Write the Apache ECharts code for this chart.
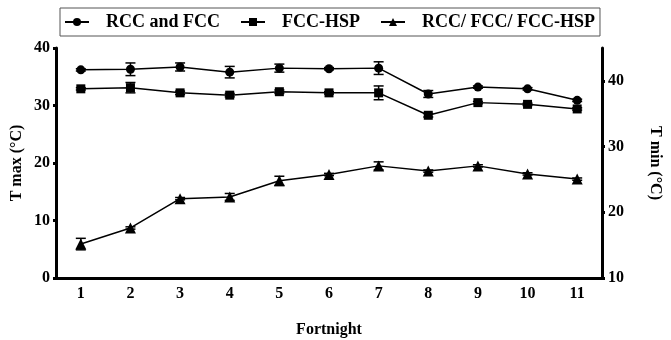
<!DOCTYPE html>
<html lang="en">
<head>
	<meta charset="UTF-8">
	<title>Fortnight temperatures</title>
	<style>
		html, body { margin: 0; padding: 0; background: #fff; }
		#chart { width: 671px; height: 340px; }
	</style>
</head>
<body>
	<div id="chart"></div>
<script src="https://cdn.jsdelivr.net/npm/echarts@6/dist/echarts.min.js"></script>
<script>
	// data
	var fortnights = ['1', '2', '3', '4', '5', '6', '7', '8', '9', '10', '11'];
	var rccFcc = [36.2, 36.3, 36.7, 35.8, 36.5, 36.4, 36.5, 32.0, 33.2, 32.9, 30.9];
	var rccFccErr = [0.2, 1.1, 0.7, 1.0, 0.7, 0.2, 1.1, 0.6, 0.2, 0.2, 0.2];
	var fccHsp = [32.9, 33.1, 32.2, 31.8, 32.4, 32.2, 32.2, 28.3, 30.5, 30.2, 29.4];
	var fccHspErr = [0.2, 0.9, 0.3, 0.3, 0.3, 0.2, 1.2, 0.3, 0.2, 0.2, 0.2];
	var allThree = [5.9, 8.7, 13.8, 14.1, 16.9, 18.0, 19.5, 18.6, 19.5, 18.1, 17.2];
	var allThreeErr = [1.0, 0.2, 0.2, 0.6, 0.8, 0.2, 0.7, 0.2, 0.2, 0.2, 0.2];
	var tmaxTicks = [0, 10, 20, 30, 40];
	var tminTicks = [10, 20, 30, 40];

	var font = 'Liberation Serif';

	// error bar: vertical line with caps
	function errorBars(values, errs) {
		return {
			type: 'custom',
			silent: true,
			z: 3,
			data: values.map(function (v, i) { return [i, v - errs[i], v + errs[i]]; }),
			renderItem: function (params, api) {
				var i = api.value(0);
				var lo = api.coord([i, api.value(1)]);
				var hi = api.coord([i, api.value(2)]);
				var w = 5;
				var style = { stroke: '#000', lineWidth: 1.5 };
				return {
					type: 'group',
					children: [
						{ type: 'line', shape: { x1: lo[0], y1: lo[1], x2: hi[0], y2: hi[1] }, style: style },
						{ type: 'line', shape: { x1: lo[0] - w, y1: lo[1], x2: lo[0] + w, y2: lo[1] }, style: style },
						{ type: 'line', shape: { x1: hi[0] - w, y1: hi[1], x2: hi[0] + w, y2: hi[1] }, style: style }
					]
				};
			}
		};
	}

	function lineSeries(name, values, symbol, size) {
		return {
			name: name,
			type: 'line',
			data: values,
			symbol: symbol,
			symbolSize: size,
			z: 4,
			itemStyle: { color: '#000' },
			lineStyle: { color: '#000', width: 1.5 }
		};
	}

	var nameStyle = { fontFamily: font, fontWeight: 'bold', fontSize: 16, color: '#000' };
	var labelStyle = { fontFamily: font, fontWeight: 'bold', fontSize: 16, color: '#000', margin: 6 };

	var myChart = echarts.init(document.getElementById('chart'));
	var option = {
		animation: false,
		textStyle: { fontFamily: font },
		grid: { left: 56, right: 69, top: 48, bottom: 62, containLabel: false, outerBoundsMode: 'none' },
		legend: {
			left: 60,
			top: 8,
			padding: [5, 5, 5, 4],
			itemGap: 20,
			itemWidth: 24,
			itemHeight: 10,
			borderColor: '#555',
			borderWidth: 1,
			textStyle: { fontFamily: font, fontWeight: 'bold', fontSize: 18, color: '#000', padding: [0, 0, 0, 12] },
			data: ['RCC and FCC', 'FCC-HSP', 'RCC/ FCC/ FCC-HSP']
		},
		xAxis: {
			type: 'category',
			data: fortnights,
			boundaryGap: true,
			name: 'Fortnight',
			nameLocation: 'middle',
			nameGap: 44,
			nameMoveOverlap: false,
			nameTextStyle: nameStyle,
			axisLine: { lineStyle: { color: '#000', width: 3 } },
			axisTick: { alignWithLabel: true, length: 3, lineStyle: { color: '#000', width: 3 } },
			axisLabel: Object.assign({}, labelStyle, { margin: 8 }),
			splitLine: { show: false }
		},
		yAxis: [{
			type: 'value',
			min: 0,
			max: 40,
			interval: 10,
			name: 'T max (°C)',
			nameLocation: 'middle',
			nameGap: 31,
			nameRotate: 90,
			nameMoveOverlap: false,
			nameTextStyle: nameStyle,
			axisLine: { show: true, lineStyle: { color: '#000', width: 3 } },
			axisTick: { show: true, length: 3, lineStyle: { color: '#000', width: 3 }, customValues: tmaxTicks },
			axisLabel: Object.assign({}, labelStyle, { customValues: tmaxTicks }),
			splitLine: { show: false }
		}, {
			type: 'value',
			position: 'right',
			min: 10,
			max: 45,
			interval: 10,
			name: 'T min (°C)',
			nameLocation: 'middle',
			nameGap: 45,
			nameRotate: -90,
			nameMoveOverlap: false,
			nameTextStyle: nameStyle,
			axisLine: { show: true, lineStyle: { color: '#000', width: 3 } },
			axisTick: { show: true, length: 3, lineStyle: { color: '#000', width: 3 }, customValues: tminTicks },
			axisLabel: Object.assign({}, labelStyle, { customValues: tminTicks }),
			splitLine: { show: false }
		}],
		series: [
			lineSeries('RCC and FCC', rccFcc, 'circle', 9),
			lineSeries('FCC-HSP', fccHsp, 'rect', 9),
			lineSeries('RCC/ FCC/ FCC-HSP', allThree, 'triangle', 11),
			errorBars(rccFcc, rccFccErr),
			errorBars(fccHsp, fccHspErr),
			errorBars(allThree, allThreeErr)
		]
	};
	myChart.setOption(option);
</script>
</body>
</html>
